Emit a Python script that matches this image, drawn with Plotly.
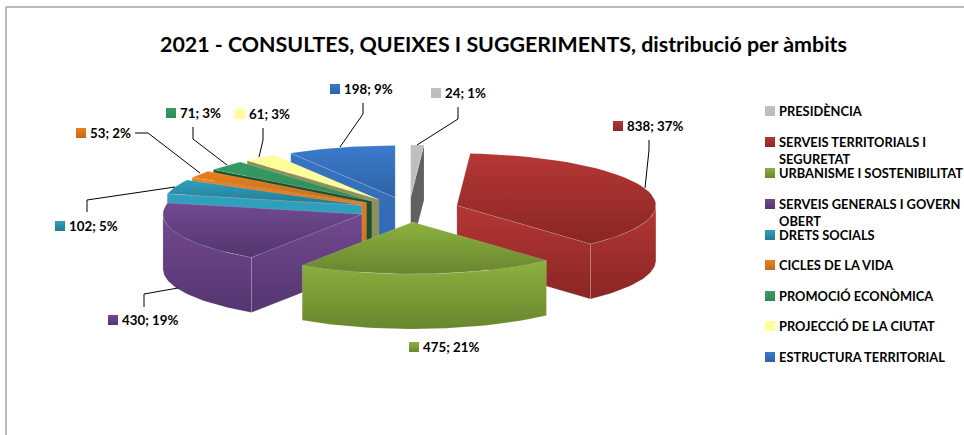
import math
import plotly.graph_objects as go

TITLE = "2021 - CONSULTES, QUEIXES I SUGGERIMENTS, distribució per àmbits"
categories = ["PRESIDÈNCIA", "SERVEIS TERRITORIALS I<br>SEGURETAT", "URBANISME I SOSTENIBILITAT",
              "SERVEIS GENERALS I GOVERN<br>OBERT", "DRETS SOCIALS", "CICLES DE LA VIDA",
              "PROMOCIÓ ECONÒMICA", "PROJECCIÓ DE LA CIUTAT", "ESTRUCTURA TERRITORIAL"]
values = [24, 838, 475, 430, 102, 53, 71, 61, 198]
percents = [1, 37, 21, 19, 5, 2, 3, 3, 9]

# top colour, bottom colour of top faces/walls; radial-wall override
light = ["#C0C0C0", "#B53735", "#8CB13F", "#73498F", "#2F9FBD", "#EA801E", "#359C63", "#FFFF99", "#3B7BCC"]
dark = ["#BCBCBC", "#892624", "#68862F", "#53366F", "#257A93", "#C26A1A", "#2F8A58", "#FFFF99", "#2F62A6"]
wall_top = ["#606060", "#B53735", "#8CB13F", "#73498F", "#2F9FBD", "#EA801E", "#1D4F30", "#8F8F58", "#3774C2"]
wall_bot = ["#606060", "#892624", "#68862F", "#53366F", "#2F9FBD", "#D0701A", "#1D4F30", "#8F8F58", "#3168AE"]

CX, CY, RX, RY, DEPTH, EX, EY = 409, 209.5, 199, 52, 55, 50.7, 12.5
total = sum(values)
fig = go.Figure()


def poly(xs, ys, c1, c2, edge):
    fig.add_trace(go.Scatter(
        x=xs + xs[:1], y=ys + ys[:1], mode="lines", fill="toself", hoverinfo="skip", showlegend=False,
        line=dict(color=edge, width=0.5),
        fillgradient=dict(type="vertical", colorscale=[[0, c2], [1, c1]]),
    ))


slices = []
acc = 0
for i, v in enumerate(values):
    a0 = acc / total * 2 * math.pi
    acc += v
    a1 = acc / total * 2 * math.pi
    mid = (a0 + a1) / 2
    ax = CX + EX * math.sin(mid)
    ay = CY - EY * math.cos(mid)
    slices.append((ay, ax, a0, a1, i))


def pt(ax, ay, a):
    return ax + RX * math.sin(a), ay - RY * math.cos(a)


def arc(ax, ay, a0, a1, n=40):
    pts = [pt(ax, ay, a0 + (a1 - a0) * k / n) for k in range(n + 1)]
    return [p[0] for p in pts], [p[1] for p in pts]


for ay, ax, a0, a1, i in sorted(slices):
    c1, c2, e = wall_top[i], wall_bot[i], "rgba(255,255,255,0.25)"
    # radial walls facing the viewer
    for a, vis in ((a0, math.sin(a0) < 0), (a1, math.sin(a1) > 0)):
        if vis:
            x, y = pt(ax, ay, a)
            poly([ax, x, x, ax], [ay, y, y + DEPTH, ay + DEPTH], c1, c2, e)
    # outer wall on the front half
    lo, hi = max(a0, math.pi / 2), min(a1, 3 * math.pi / 2)
    if lo < hi:
        xs, ys = arc(ax, ay, lo, hi)
        poly(xs + xs[::-1], ys + [q + DEPTH for q in ys[::-1]], c1, c2, e)
    # top face
    xs, ys = arc(ax, ay, a0, a1)
    poly([ax] + xs, [ay] + ys, light[i], dark[i], e)

LABEL_POS = [(436, 93), (618, 126), (414, 347), (113, 320), (60, 226), (81, 133), (171, 113), (240, 114), (335, 89)]
LEADERS = [
    [(458, 107), (458, 119), (417, 145)],
    [(649, 140), (649, 150), (645, 188)],
    None,
    [(144, 307), (144, 294), (178, 288)],
    [(87, 212), (87, 200), (175, 187)],
    [(135, 133), (148, 133), (200, 173)],
    [(193, 127), (193, 139), (227, 165)],
    [(263, 128), (263, 140), (259, 157)],
    [(363, 103), (363, 114), (340, 147)],
]
LEGEND_Y = [110, 141, 172, 203, 234, 264, 295, 325, 356]
FONT = "Lato"
annotations = [dict(x=503, y=44, text=f"<b>{TITLE}</b>", showarrow=False, xref="x", yref="y",
                    font=dict(family=FONT, size=21.4, color="black"))]
shapes = [
    dict(type="line", x0=6, x1=6, y0=7, y1=435, line=dict(color="#A3A3A3", width=1.5), xref="x", yref="y"),
    dict(type="line", x0=6, x1=964, y0=7, y1=7, line=dict(color="#A3A3A3", width=1.5), xref="x", yref="y"),
]
for i, cat in enumerate(categories):
    lx, ly = LABEL_POS[i]
    annotations.append(dict(x=lx + 7, y=ly, text=f"<b>{values[i]}; {percents[i]}%</b>", showarrow=False,
                            xanchor="left", font=dict(family=FONT, size=13.3, color="black")))
    fig.add_trace(go.Scatter(x=[lx, 770], y=[ly, LEGEND_Y[i] + 1], mode="markers", hoverinfo="skip", showlegend=False,
                             marker=dict(symbol="square", size=10, color=light[i],
                                         gradient=dict(type="vertical", color=dark[i]), line=dict(width=0))))
    annotations.append(dict(x=777, y=LEGEND_Y[i], text=f"<b>{cat}</b>", showarrow=False, xanchor="left",
                            yanchor="top", yshift=9, align="left",
                            font=dict(family=FONT, size=12.85, color="black")))
    if LEADERS[i]:
        p = LEADERS[i]
        path = "M " + " L ".join(f"{a},{b}" for a, b in p)
        shapes.append(dict(type="path", path=path, line=dict(color="black", width=1), xref="x", yref="y"))

fig.update_layout(
    width=964, height=435, margin=dict(l=0, r=0, t=0, b=0), paper_bgcolor="white", plot_bgcolor="white",
    xaxis=dict(range=[0, 964], visible=False, fixedrange=True),
    yaxis=dict(range=[435, 0], visible=False, fixedrange=True),
    annotations=annotations, shapes=shapes, showlegend=False,
)
fig.write_html("out.html", config=dict(displayModeBar=False),
               post_script="document.body.style.margin='0';document.body.style.overflow='hidden';")
